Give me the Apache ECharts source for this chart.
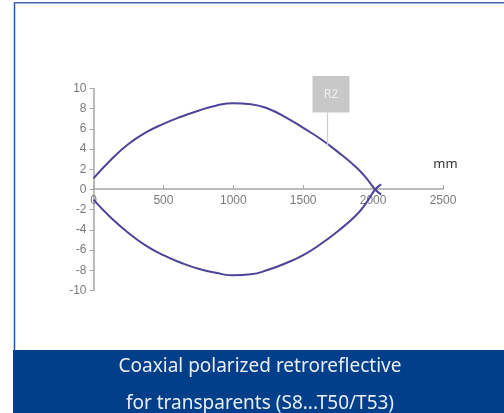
<!DOCTYPE html>
<html>
<head>
<meta charset="utf-8">
<script src="https://cdn.jsdelivr.net/npm/echarts@6/dist/echarts.min.js"></script>
<style>
html,body{margin:0;padding:0;background:#fff;}
#c{width:504px;height:413px;}
</style>
</head>
<body>
<div id="c"></div>
<script>
// Data
var topX = [0, 125, 250, 375, 500, 625, 750, 875, 1000, 1125, 1250, 1375, 1500, 1625, 1750, 1875, 1950, 2015, 2058];
var topY = [1.1, 2.95, 4.5, 5.65, 6.5, 7.2, 7.8, 8.3, 8.55, 8.45, 8.0, 7.15, 6.1, 5.0, 3.7, 2.25, 1.15, 0, -0.5];
var botX = [0, 125, 250, 375, 500, 625, 750, 875, 1000, 1125, 1250, 1375, 1500, 1625, 1750, 1875, 1950, 2015, 2058];
var botY = [-1.0, -2.8, -4.3, -5.55, -6.5, -7.25, -7.85, -8.25, -8.5, -8.4, -7.95, -7.3, -6.5, -5.4, -4.1, -2.6, -1.35, 0, 0.5];
var xTicks = [0, 500, 1000, 1500, 2000, 2500];
var yTicks = [-10, -8, -6, -4, -2, 0, 2, 4, 6, 8, 10];
var unitLabel = 'mm';
var seriesLabel = 'R2';
var captionLines = ['Coaxial polarized retroreflective', 'for transparents (S8...T50/T53)'];

function pairs(xs, ys){ return xs.map(function(x,i){ return [x, ys[i]]; }); }

var chart = echarts.init(document.getElementById('c'), null, {renderer:'canvas'});
var lineColor = '#4b4498';
var axisColor = '#a6a6a6';
var labelStyle = {color: '#7a7a7a', fontFamily: 'Liberation Sans', fontSize: 12};
var option = {
  animation: false,
  backgroundColor: '#ffffff',
  grid: [
    {left: 93.5, right: 61, top: 88.5, bottom: 122.5, containLabel: false},
    {left: 93.5, right: 61, top: 88.5, height: 100.6, containLabel: false}
  ],
  xAxis: [
    {type: 'value', gridIndex: 0, min: xTicks[0], max: xTicks[xTicks.length-1], interval: 500, show: false},
    {type: 'value', gridIndex: 1, min: xTicks[0], max: xTicks[xTicks.length-1], interval: 500,
     axisLine: {onZero: false, lineStyle: {color: axisColor, width: 1.5}},
     axisTick: {show: true, inside: true, length: 4, lineStyle: {color: axisColor}},
     axisLabel: Object.assign({margin: 6, formatter: function(v){ return String(v); }}, labelStyle),
     splitLine: {show: false}}
  ],
  yAxis: [
    {type: 'value', gridIndex: 0, min: yTicks[0], max: yTicks[yTicks.length-1], interval: 2,
     axisLine: {show: true, onZero: false, lineStyle: {color: axisColor, width: 1.5}},
     axisTick: {show: true, length: 4, lineStyle: {color: axisColor}},
     axisLabel: Object.assign({margin: 7}, labelStyle),
     splitLine: {show: false}},
    {type: 'value', gridIndex: 1, min: 0, max: 10, show: false}
  ],
  series: [
    {type: 'line', name: seriesLabel, xAxisIndex: 0, yAxisIndex: 0, data: pairs(topX, topY), smooth: 0.5, symbol: 'none',
     lineStyle: {color: lineColor, width: 2}, z: 3},
    {type: 'line', name: seriesLabel + 'b', xAxisIndex: 0, yAxisIndex: 0, data: pairs(botX, botY), smooth: 0.5, symbol: 'none',
     lineStyle: {color: lineColor, width: 2}, z: 3}
  ],
  graphic: [
    {type: 'rect', shape: {x: 13, y: 350, width: 491, height: 63}, style: {fill: '#013f8a'}, z: 10},
    {type: 'line', shape: {x1: 14.5, y1: 2, x2: 14.5, y2: 350}, style: {stroke: '#1d58b3', lineWidth: 1.5}, z: 10},
    {type: 'line', shape: {x1: 14, y1: 2.8, x2: 504, y2: 2.8}, style: {stroke: '#3f68a6', lineWidth: 1.6}, z: 10},
    {type: 'text', x: 260, y: 367, style: {text: captionLines[0], fill: '#e8eef7', font: '19px "Noto Sans"', textAlign: 'center', textVerticalAlign: 'middle'}, z: 11},
    {type: 'text', x: 260, y: 404, style: {text: captionLines[1], fill: '#e8eef7', font: '19px "Noto Sans"', textAlign: 'center', textVerticalAlign: 'middle'}, z: 11},
    {type: 'line', shape: {x1: 327.5, y1: 112.5, x2: 327.5, y2: 146}, style: {stroke: '#cccccc', lineWidth: 1.2}, z: 5},
    {type: 'rect', shape: {x: 312.5, y: 76, width: 37, height: 36.5}, style: {fill: '#c8c8c8'}, z: 5},
    {type: 'text', x: 331, y: 94.5, style: {text: seriesLabel, fill: '#eeeeee', font: '12px "Noto Sans"', textAlign: 'center', textVerticalAlign: 'middle'}, z: 6},
    {type: 'text', x: 445.5, y: 164, style: {text: unitLabel, fill: '#333333', font: '13px "Noto Sans"', textAlign: 'center', textVerticalAlign: 'middle'}, z: 6}
  ]
};
chart.setOption(option);
</script>
</body>
</html>
